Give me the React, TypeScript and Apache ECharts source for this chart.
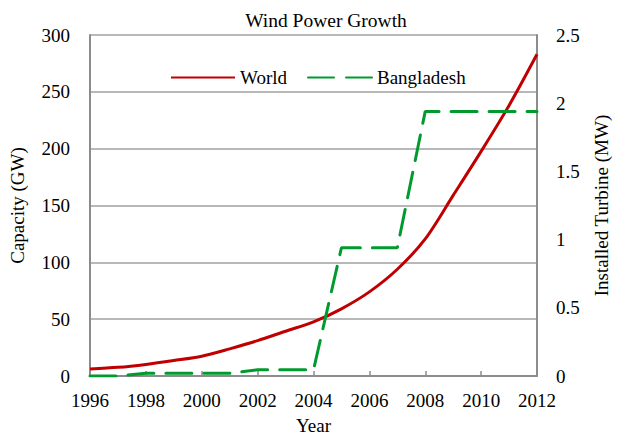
import React, { useEffect, useRef } from "react";
import * as echarts from "echarts";

const years = [1996, 1997, 1998, 1999, 2000, 2001, 2002, 2003, 2004, 2005, 2006, 2007, 2008, 2009, 2010, 2011, 2012];
const worldGW = [6.1, 7.6, 10.2, 13.6, 17.4, 23.9, 31.1, 39.4, 47.6, 59.1, 74.0, 93.9, 120.6, 158.9, 197.6, 238.0, 283.0];
const bangladeshMW = [0, 0, 0.02, 0.02, 0.02, 0.02, 0.045, 0.045, 0.045, 0.94, 0.94, 0.94, 1.94, 1.94, 1.94, 1.94, 1.94];
const leftTicks = { min: 0, max: 300, interval: 50 };
const rightTicks = { min: 0, max: 2.5, interval: 0.5 };

const FONT = "'Liberation Serif', 'Times New Roman', serif";

export default function App() {
  const ref = useRef<HTMLDivElement>(null);
  useEffect(() => {
    if (!ref.current) return;
    const chart = echarts.init(ref.current, undefined, { renderer: "svg", width: 619, height: 440 });
    const txt = { fontFamily: FONT, fontSize: 19, color: "#000" };
    chart.setOption({
      animation: false,
      backgroundColor: "#fff",
      textStyle: { fontFamily: FONT },
      title: {
        text: "Wind Power Growth",
        left: 321,
        top: 5,
        textAlign: "center",
        textStyle: { ...txt, fontSize: 19.5, fontWeight: "normal" },
      },
      legend: {
        left: 165,
        top: 63,
        itemWidth: 64,
        itemHeight: 14,
        itemGap: 20,
        textStyle: txt,
        itemStyle: { opacity: 0 },
        data: ["World", "Bangladesh"],
      },
      grid: { left: 90, right: 74, top: 35, bottom: 63, containLabel: false },
      xAxis: {
        type: "value",
        min: 1996,
        max: 2012,
        interval: 2,
        name: "Year",
        nameLocation: "middle",
        nameGap: 40,
        nameTextStyle: txt,
        axisLine: { show: true, lineStyle: { color: "#8c8c8c", width: 2 } },
        axisTick: { show: true, inside: true, length: 5, lineStyle: { color: "#8c8c8c", width: 1.5 } },
        axisLabel: { ...txt, margin: 15, formatter: (v: number) => String(v) },
        splitLine: { show: false },
      },
      yAxis: [
        {
          type: "value",
          ...leftTicks,
          name: "Capacity (GW)",
          nameLocation: "middle",
          nameGap: 63,
          nameTextStyle: txt,
          axisLine: { show: true, lineStyle: { color: "#8c8c8c", width: 2 } },
          axisTick: { show: false },
          axisLabel: { ...txt, margin: 20 },
          splitLine: { show: true, lineStyle: { color: "#a0a0a0", width: 1.5 } },
        },
        {
          type: "value",
          ...rightTicks,
          name: "Installed Turbine (MW)",
          nameLocation: "middle",
          nameGap: 55,
          nameTextStyle: txt,
          axisLine: { show: true, lineStyle: { color: "#8c8c8c", width: 2 } },
          axisTick: { show: false },
          axisLabel: { ...txt, margin: 19 },
          splitLine: { show: false },
        },
      ],
      series: [
        {
          name: "World",
          type: "line",
          yAxisIndex: 0,
          smooth: 0.3,
          symbol: "none",
          data: years.map((y, i) => [y, worldGW[i]]),
          lineStyle: { color: "#C00000", width: 3 },
          itemStyle: { color: "#C00000" },
        },
        {
          name: "Bangladesh",
          type: "line",
          yAxisIndex: 1,
          symbol: "none",
          data: years.map((y, i) => [y, bangladeshMW[i]]),
          lineStyle: { color: "#009A2E", width: 3, type: [26, 12], cap: "round" },
          itemStyle: { color: "#009A2E" },
        },
      ],
    });
    return () => chart.dispose();
  }, []);
  return <div ref={ref} style={{ width: 619, height: 440, position: "absolute", left: 0, top: 0 }} />;
}
